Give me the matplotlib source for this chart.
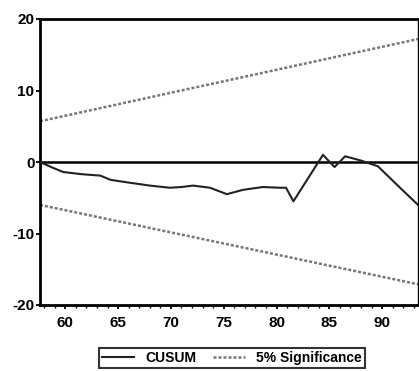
import matplotlib
matplotlib.use("Agg")
import matplotlib.pyplot as plt
from matplotlib.ticker import MultipleLocator

plt.rcParams['font.family'] = ['Liberation Sans', 'DejaVu Sans']
plt.rcParams['axes.unicode_minus'] = False

# CUSUM series (year, value)
cusum_years = [57.6, 58.8, 59.8, 61.5, 63.3, 64.3, 66.1, 68.0, 69.9, 71.0, 72.1,
               73.7, 75.3, 76.8, 78.7, 80.3, 80.9, 81.6, 84.4, 85.5, 86.5, 88.0,
               89.6, 91.7, 93.4]
cusum_vals = [0.0, -0.8, -1.4, -1.7, -1.9, -2.5, -2.9, -3.3, -3.6, -3.5, -3.3,
              -3.6, -4.5, -3.9, -3.5, -3.6, -3.6, -5.5, 1.0, -0.7, 0.8, 0.2,
              -0.6, -3.6, -6.0]

# 5% significance bounds
sig_years = [57.6, 93.4]
sig_upper = [5.7, 17.2]
sig_lower = [-6.0, -17.1]

y_ticks = [-20, -10, 0, 10, 20]
x_ticks = [60, 65, 70, 75, 80, 85, 90]

fig = plt.figure(figsize=(4.19, 3.72), dpi=100)
ax = fig.add_axes([40/419, 1-305/372, 378/419, 286/372])

ax.axhline(0, color='black', lw=1.8, zorder=2)
l1, = ax.plot(cusum_years, cusum_vals, color='#222222', lw=1.5, label='CUSUM', zorder=3)
l2, = ax.plot(sig_years, sig_upper, color='#777777', lw=1.8, ls=(0, (1.2, 0.8)),
              label='5% Significance')
ax.plot(sig_years, sig_lower, color='#777777', lw=1.8, ls=(0, (1.2, 0.8)))

ax.set_xlim(57.6, 93.4)
ax.set_ylim(-20, 20)
ax.set_yticks(y_ticks)
ax.set_yticklabels([str(v) for v in y_ticks])
ax.set_xticks(x_ticks)
ax.set_xticklabels([str(v) for v in x_ticks])
ax.xaxis.set_minor_locator(MultipleLocator(1))

for lbl in ax.get_xticklabels() + ax.get_yticklabels():
    lbl.set_fontweight('bold')
    lbl.set_fontsize(11)

ax.tick_params(axis='both', direction='out', width=1.3, length=3, pad=1)
ax.tick_params(axis='x', which='minor', length=2, width=1)
ax.tick_params(axis='x', pad=5)

ax.spines['left'].set_linewidth(2)
ax.spines['bottom'].set_linewidth(2)
ax.spines['top'].set_linewidth(2)
ax.spines['right'].set_linewidth(1)

leg = fig.legend(handles=[l1, l2], loc='center', bbox_to_anchor=(232/419, 1-358/372),
                 ncol=2, frameon=True, fancybox=False, edgecolor='black',
                 prop={'weight': 'bold', 'size': 10}, handlelength=2.3,
                 columnspacing=1.2, borderpad=0.25, handletextpad=0.8)
leg.get_frame().set_linewidth(1.5)

fig.savefig('out.png', dpi=100)
